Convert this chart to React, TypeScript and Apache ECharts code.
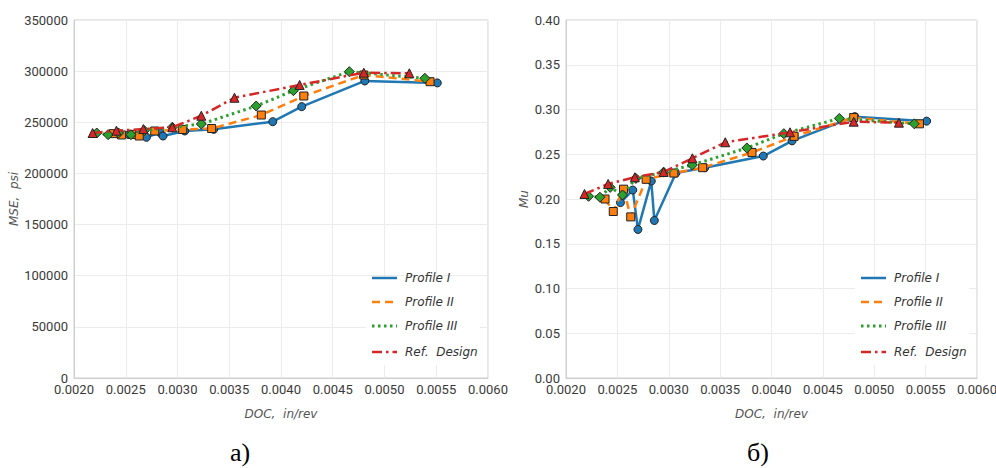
import React, { useEffect, useRef } from "react";
import * as echarts from "echarts";

// DOC (in/rev) per profile
const docProfileI = [0.00253, 0.00265, 0.0027, 0.00283, 0.00286, 0.00307, 0.00335, 0.00392, 0.0042, 0.00481, 0.00551];
const docProfileII = [0.00238, 0.00246, 0.00256, 0.00263, 0.00278, 0.00305, 0.00333, 0.00381, 0.00422, 0.0048, 0.00544];
const docProfileIII = [0.00222, 0.00233, 0.00243, 0.00255, 0.00268, 0.00295, 0.00323, 0.00376, 0.00412, 0.00466, 0.00539];
const docRef = [0.00218, 0.00241, 0.00267, 0.00295, 0.00323, 0.00355, 0.00418, 0.0048, 0.00524];

// MSE (psi)
const mseProfileI = [238000, 239000, 235300, 240000, 236600, 241500, 243100, 250600, 265300, 290400, 288500];
const mseProfileII = [238900, 237600, 238100, 236600, 241500, 243000, 243900, 257100, 275700, 296200, 289700];
const mseProfileIII = [239500, 237900, 239500, 237900, 241800, 245100, 248300, 265900, 280900, 299500, 293000];
const mseRef = [239500, 241800, 243400, 245100, 256400, 274000, 286500, 298500, 297900];

// Mu
const muProfileI = [0.196, 0.21, 0.166, 0.22, 0.176, 0.229, 0.235, 0.248, 0.265, 0.292, 0.287];
const muProfileII = [0.2, 0.186, 0.211, 0.18, 0.222, 0.229, 0.235, 0.252, 0.27, 0.291, 0.284];
const muProfileIII = [0.203, 0.202, 0.213, 0.2045, 0.223, 0.23, 0.238, 0.257, 0.273, 0.29, 0.284];
const muRef = [0.2056, 0.2168, 0.2243, 0.2302, 0.2455, 0.2634, 0.2745, 0.2864, 0.2853];

const seriesNames = ["Profile I", "Profile II", "Profile III", "Ref.  Design"];
const colors = ["#1f77b4", "#ff7f0e", "#2ca02c", "#d62728"];
const symbols = ["circle", "rect", "diamond", "triangle"];
const symbolSizes = [8, 8, 10, 9];
const dashes: any[] = ["solid", [8, 5], [2.5, 3.5], [10, 4, 2.5, 4]];

const xLabel = "DOC,  in/rev";
const yLabelLeft = "MSE,  psi";
const yLabelRight = "Mu";
const panelLabels = ["а)", "б)"];

const tickFont = "Roboto, sans-serif";
const nameFont = "'DejaVu Sans', sans-serif";

function pairs(xs: number[], ys: number[]) {
  return xs.map((x, i) => [x, ys[i]]);
}

export default function App() {
  const ref = useRef<HTMLDivElement>(null);
  useEffect(() => {
    if (!ref.current) return;
    const chart = echarts.init(ref.current, null, { renderer: "svg" });
    const docs = [docProfileI, docProfileII, docProfileIII, docRef];
    const mses = [mseProfileI, mseProfileII, mseProfileIII, mseRef];
    const mus = [muProfileI, muProfileII, muProfileIII, muRef];

    const axisCommon = {
      axisLine: { show: true, lineStyle: { color: "#cfcfcf", width: 1 } },
      axisTick: { show: false },
      splitLine: { show: true, lineStyle: { color: "#ececec", width: 1 } },
      axisLabel: { color: "#3a3a3a", fontFamily: tickFont, fontSize: 13 },
    };

    const xAxisDef = (gi: number) => ({
      ...axisCommon,
      type: "value",
      gridIndex: gi,
      min: 0.002,
      max: 0.006,
      interval: 0.0005,
      axisLabel: { ...axisCommon.axisLabel, margin: 5, formatter: (v: number) => v.toFixed(4) },
      name: xLabel,
      nameLocation: "middle",
      nameGap: 30,
      nameTextStyle: { fontFamily: nameFont, fontStyle: "italic", fontSize: 12, color: "#555" },
    });

    const series: any[] = [];
    for (let g = 0; g < 2; g++) {
      for (let s = 0; s < 4; s++) {
        series.push({
          type: "line",
          name: seriesNames[s],
          xAxisIndex: g,
          yAxisIndex: g,
          data: pairs(docs[s], g === 0 ? mses[s] : mus[s]),
          symbol: symbols[s],
          symbolSize: symbolSizes[s],
          showAllSymbol: true,
          lineStyle: { color: colors[s], width: s === 2 ? 3 : 2.5, type: dashes[s] },
          itemStyle: { color: colors[s], borderColor: "#222", borderWidth: 1 },
          z: 2 + s,
        });
      }
    }

    const legendGraphics: any[] = [];
    const legendX = [372, 861];
    const legendY = [278, 302, 326, 352];
    for (let g = 0; g < 2; g++) {
      legendGraphics.push({
        type: "rect",
        shape: { x: legendX[g] - 6, y: 277, width: 114, height: 88 },
        style: { fill: "#fff" },
        z: 50,
      });
      for (let s = 0; s < 4; s++) {
        legendGraphics.push({
          type: "line",
          z: 51,
          shape: { x1: legendX[g], y1: legendY[s], x2: legendX[g] + 25, y2: legendY[s] },
          style: { stroke: colors[s], lineWidth: s === 2 ? 3 : 2.5, lineDash: dashes[s] === "solid" ? null : dashes[s] },
        });
        legendGraphics.push({
          type: "text",
          z: 51,
          x: legendX[g] + 33,
          y: legendY[s],
          style: {
            text: seriesNames[s],
            fill: "#333",
            font: "italic 12px 'DejaVu Sans', sans-serif",
            verticalAlign: "middle",
          },
        });
      }
    }
    legendGraphics.push({
      type: "text", x: 240, y: 452,
      style: { text: panelLabels[0], fill: "#000", font: "26px 'Liberation Serif', serif", align: "center", verticalAlign: "middle" },
    });
    legendGraphics.push({
      type: "text", x: 758, y: 452,
      style: { text: panelLabels[1], fill: "#000", font: "26px 'Liberation Serif', serif", align: "center", verticalAlign: "middle" },
    });

    chart.setOption({
      animation: false,
      backgroundColor: "#fff",
      grid: [
        { left: 74, top: 20, width: 414, height: 358, show: true, borderColor: "#cfcfcf", borderWidth: 1, outerBoundsMode: "none", containLabel: false },
        { left: 566, top: 20, width: 411, height: 358, show: true, borderColor: "#cfcfcf", borderWidth: 1, outerBoundsMode: "none", containLabel: false },
      ],
      xAxis: [xAxisDef(0), xAxisDef(1)],
      yAxis: [
        {
          ...axisCommon,
          type: "value",
          gridIndex: 0,
          min: 0,
          max: 350000,
          interval: 50000,
          axisLabel: { ...axisCommon.axisLabel, margin: 6, formatter: (v: number) => String(Math.round(v)) },
          name: yLabelLeft,
          nameLocation: "middle",
          nameGap: 51,
          nameTextStyle: { fontFamily: nameFont, fontStyle: "italic", fontSize: 12, color: "#555" },
        },
        {
          ...axisCommon,
          type: "value",
          gridIndex: 1,
          min: 0,
          max: 0.4,
          interval: 0.05,
          axisLabel: { ...axisCommon.axisLabel, margin: 6, formatter: (v: number) => v.toFixed(2) },
          name: yLabelRight,
          nameLocation: "middle",
          nameGap: 36,
          nameTextStyle: { fontFamily: nameFont, fontStyle: "italic", fontSize: 12, color: "#555" },
        },
      ],
      series,
      graphic: legendGraphics,
    });
    return () => chart.dispose();
  }, []);
  return <div ref={ref} style={{ position: "fixed", left: 0, top: 0, width: 996, height: 468 }} />;
}
